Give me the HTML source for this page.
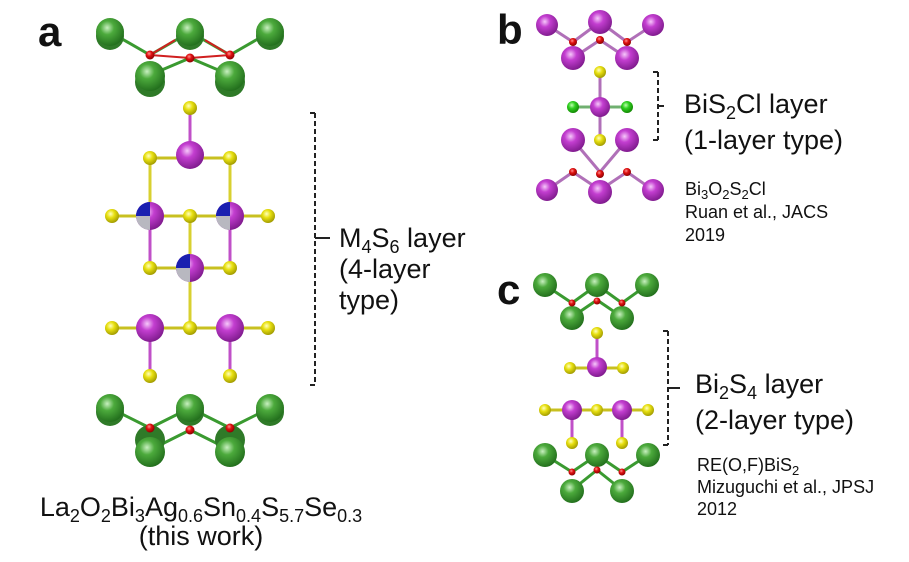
<!DOCTYPE html>
<html><head><meta charset="utf-8"><style>
html,body{margin:0;padding:0;background:#fff;}
svg{display:block;font-family:"Liberation Sans",Arial,sans-serif;}
</style></head><body>
<svg width="909" height="562" viewBox="0 0 909 562" xmlns="http://www.w3.org/2000/svg">
<defs>
<radialGradient id="g" cx="0.4" cy="0.35" r="0.7"><stop offset="0" stop-color="#c8f0c0"/><stop offset="0.35" stop-color="#4caa3c"/><stop offset="1" stop-color="#1f6a1a"/></radialGradient>
<radialGradient id="m" cx="0.4" cy="0.35" r="0.7"><stop offset="0" stop-color="#f6c8fa"/><stop offset="0.35" stop-color="#c33ed0"/><stop offset="1" stop-color="#7a1888"/></radialGradient>
<radialGradient id="y" cx="0.4" cy="0.35" r="0.7"><stop offset="0" stop-color="#ffffc0"/><stop offset="0.4" stop-color="#e8e010"/><stop offset="1" stop-color="#9a9400"/></radialGradient>
<radialGradient id="r" cx="0.4" cy="0.35" r="0.7"><stop offset="0" stop-color="#ff9090"/><stop offset="0.4" stop-color="#e01010"/><stop offset="1" stop-color="#800000"/></radialGradient>
<radialGradient id="c" cx="0.4" cy="0.35" r="0.7"><stop offset="0" stop-color="#c0ffb0"/><stop offset="0.4" stop-color="#30d020"/><stop offset="1" stop-color="#108000"/></radialGradient>
</defs>

<g stroke="#3a9a30" stroke-width="3">
<line x1="110" y1="32" x2="150" y2="55"/><line x1="190" y1="32" x2="150" y2="55"/><line x1="190" y1="32" x2="230" y2="55"/><line x1="270" y1="32" x2="230" y2="55"/>
<line x1="150" y1="75" x2="190" y2="58"/><line x1="230" y1="75" x2="190" y2="58"/>
</g>
<g stroke="#d02020" stroke-width="2">
<line x1="150" y1="55" x2="190" y2="58"/><line x1="190" y1="58" x2="230" y2="55"/><line x1="150" y1="55" x2="175" y2="40"/><line x1="230" y1="55" x2="205" y2="40"/>
</g>
<circle cx="110" cy="36" r="14" fill="#2f7a28"/><circle cx="190" cy="36" r="14" fill="#2f7a28"/><circle cx="270" cy="36" r="14" fill="#2f7a28"/>
<circle cx="110" cy="32" r="14" fill="url(#g)"/><circle cx="190" cy="32" r="14" fill="url(#g)"/><circle cx="270" cy="32" r="14" fill="url(#g)"/>
<circle cx="150" cy="55" r="4.5" fill="url(#r)"/><circle cx="190" cy="58" r="4.5" fill="url(#r)"/><circle cx="230" cy="55" r="4.5" fill="url(#r)"/>
<circle cx="150" cy="82" r="15" fill="#2f7a28"/><circle cx="230" cy="82" r="15" fill="#2f7a28"/>
<circle cx="150" cy="76" r="15" fill="url(#g)"/><circle cx="230" cy="76" r="15" fill="url(#g)"/>

<g stroke-width="3">
<line x1="190" y1="108" x2="190" y2="155" stroke="#c050c8"/>
<line x1="150" y1="158" x2="230" y2="158" stroke="#c8c020"/>
<line x1="150" y1="158" x2="150" y2="216" stroke="#d8d030"/><line x1="230" y1="158" x2="230" y2="216" stroke="#d8d030"/>
<line x1="112" y1="216" x2="268" y2="216" stroke="#c8c020"/>
<line x1="150" y1="216" x2="150" y2="268" stroke="#c050c8"/><line x1="230" y1="216" x2="230" y2="268" stroke="#c050c8"/>
<line x1="190" y1="216" x2="190" y2="328" stroke="#d8d030"/>
<line x1="150" y1="268" x2="230" y2="268" stroke="#c8c020"/>
<line x1="112" y1="328" x2="268" y2="328" stroke="#c8c020"/>
<line x1="150" y1="328" x2="150" y2="376" stroke="#c050c8"/><line x1="230" y1="328" x2="230" y2="376" stroke="#c050c8"/>
</g>
<g fill="url(#y)">
<circle cx="190" cy="108" r="7"/><circle cx="150" cy="158" r="7"/><circle cx="230" cy="158" r="7"/>
<circle cx="112" cy="216" r="7"/><circle cx="190" cy="216" r="7"/><circle cx="268" cy="216" r="7"/>
<circle cx="150" cy="268" r="7"/><circle cx="230" cy="268" r="7"/>
<circle cx="112" cy="328" r="7"/><circle cx="190" cy="328" r="7"/><circle cx="268" cy="328" r="7"/>
<circle cx="150" cy="376" r="7"/><circle cx="230" cy="376" r="7"/>
</g>
<circle cx="190" cy="155" r="14" fill="url(#m)"/>
<circle cx="150" cy="328" r="14" fill="url(#m)"/><circle cx="230" cy="328" r="14" fill="url(#m)"/>
<g>
<circle cx="150" cy="216" r="14" fill="url(#m)"/><path d="M150 216 L136 216 A14 14 0 0 1 150 202 Z" fill="#1a20b0"/><path d="M150 216 L150 230 A14 14 0 0 1 136 216 Z" fill="#b8b8c0"/>
<circle cx="230" cy="216" r="14" fill="url(#m)"/><path d="M230 216 L216 216 A14 14 0 0 1 230 202 Z" fill="#1a20b0"/><path d="M230 216 L230 230 A14 14 0 0 1 216 216 Z" fill="#b8b8c0"/>
<circle cx="190" cy="268" r="14" fill="url(#m)"/><path d="M190 268 L176 268 A14 14 0 0 1 190 254 Z" fill="#1a20b0"/><path d="M190 268 L190 282 A14 14 0 0 1 176 268 Z" fill="#b8b8c0"/>
</g>

<g stroke="#3a9a30" stroke-width="3">
<line x1="110" y1="408" x2="150" y2="428"/><line x1="190" y1="408" x2="150" y2="428"/><line x1="190" y1="408" x2="230" y2="428"/><line x1="270" y1="408" x2="230" y2="428"/>
<line x1="150" y1="450" x2="190" y2="430"/><line x1="230" y1="450" x2="190" y2="430"/>
</g>
<circle cx="110" cy="412" r="14" fill="#2f7a28"/><circle cx="190" cy="412" r="14" fill="#2f7a28"/><circle cx="270" cy="412" r="14" fill="#2f7a28"/>
<circle cx="110" cy="408" r="14" fill="url(#g)"/><circle cx="190" cy="408" r="14" fill="url(#g)"/><circle cx="270" cy="408" r="14" fill="url(#g)"/>
<circle cx="150" cy="440" r="15" fill="#2f7a28"/><circle cx="230" cy="440" r="15" fill="#2f7a28"/>
<circle cx="150" cy="428" r="4.5" fill="url(#r)"/><circle cx="190" cy="430" r="4.5" fill="url(#r)"/><circle cx="230" cy="428" r="4.5" fill="url(#r)"/>
<circle cx="150" cy="452" r="15" fill="url(#g)"/><circle cx="230" cy="452" r="15" fill="url(#g)"/>

<g stroke="#222" stroke-width="2" fill="none">
<line x1="315" y1="113" x2="315" y2="385" stroke-dasharray="5,3"/>
<line x1="310" y1="113" x2="315" y2="113"/><line x1="310" y1="385" x2="315" y2="385"/>
<line x1="315" y1="238" x2="330" y2="238"/>
</g>
<text x="339" y="247" font-size="27" fill="#111">M<tspan font-size="18" dy="6">4</tspan><tspan dy="-6">S</tspan><tspan font-size="18" dy="6">6</tspan><tspan dy="-6"> layer</tspan></text>
<text x="339" y="278" font-size="27" fill="#111">(4-layer</text>
<text x="339" y="309" font-size="27" fill="#111">type)</text>
<text x="38" y="46" font-size="42" font-weight="bold" fill="#111">a</text>
<text x="201" y="516" font-size="27" fill="#111" text-anchor="middle">La<tspan font-size="18" dy="6">2</tspan><tspan dy="-6">O</tspan><tspan font-size="18" dy="6">2</tspan><tspan dy="-6">Bi</tspan><tspan font-size="18" dy="6">3</tspan><tspan dy="-6">Ag</tspan><tspan font-size="18" dy="6">0.6</tspan><tspan dy="-6">Sn</tspan><tspan font-size="18" dy="6">0.4</tspan><tspan dy="-6">S</tspan><tspan font-size="18" dy="6">5.7</tspan><tspan dy="-6">Se</tspan><tspan font-size="18" dy="6">0.3</tspan></text>
<text x="201" y="545" font-size="27" fill="#111" text-anchor="middle">(this work)</text>

<text x="497" y="44" font-size="42" font-weight="bold" fill="#111">b</text>
<g stroke="#b070b8" stroke-width="3">
<line x1="547" y1="25" x2="573" y2="42"/><line x1="600" y1="22" x2="573" y2="42"/><line x1="600" y1="22" x2="627" y2="42"/><line x1="653" y1="25" x2="627" y2="42"/>
<line x1="573" y1="58" x2="600" y2="40"/><line x1="627" y1="58" x2="600" y2="40"/>
<line x1="600" y1="72" x2="600" y2="140"/><line x1="573" y1="107" x2="627" y2="107" stroke="#70b070"/>
<line x1="547" y1="190" x2="573" y2="172"/><line x1="600" y1="190" x2="573" y2="172"/><line x1="600" y1="190" x2="627" y2="172"/><line x1="653" y1="190" x2="627" y2="172"/>
<line x1="573" y1="140" x2="600" y2="172"/><line x1="627" y1="140" x2="600" y2="172"/>
</g>
<g fill="url(#m)">
<circle cx="547" cy="25" r="11"/><circle cx="600" cy="22" r="12"/><circle cx="653" cy="25" r="11"/>
<circle cx="573" cy="58" r="12"/><circle cx="627" cy="58" r="12"/>
<circle cx="600" cy="107" r="10"/>
<circle cx="573" cy="140" r="12"/><circle cx="627" cy="140" r="12"/>
<circle cx="547" cy="190" r="11"/><circle cx="600" cy="192" r="12"/><circle cx="653" cy="190" r="11"/>
</g>
<g fill="url(#r)"><circle cx="573" cy="42" r="4"/><circle cx="600" cy="40" r="4"/><circle cx="627" cy="42" r="4"/>
<circle cx="573" cy="172" r="4"/><circle cx="600" cy="174" r="4"/><circle cx="627" cy="172" r="4"/></g>
<circle cx="600" cy="72" r="6" fill="url(#y)"/><circle cx="600" cy="140" r="6" fill="url(#y)"/>
<circle cx="573" cy="107" r="6" fill="url(#c)"/><circle cx="627" cy="107" r="6" fill="url(#c)"/>
<g stroke="#222" stroke-width="2" fill="none">
<line x1="658" y1="72" x2="658" y2="140" stroke-dasharray="5,3"/>
<line x1="653" y1="72" x2="658" y2="72"/><line x1="653" y1="140" x2="658" y2="140"/>
<line x1="658" y1="106" x2="664" y2="106"/>
</g>
<text x="684" y="113" font-size="27" fill="#111">BiS<tspan font-size="18" dy="6">2</tspan><tspan dy="-6">Cl layer</tspan></text>
<text x="684" y="149" font-size="27" fill="#111">(1-layer type)</text>
<text x="685" y="195" font-size="18" fill="#111">Bi<tspan font-size="13" dy="4">3</tspan><tspan dy="-4">O</tspan><tspan font-size="13" dy="4">2</tspan><tspan dy="-4">S</tspan><tspan font-size="13" dy="4">2</tspan><tspan dy="-4">Cl</tspan></text>
<text x="685" y="218" font-size="18" fill="#111">Ruan et al., JACS</text>
<text x="685" y="241" font-size="18" fill="#111">2019</text>

<text x="497" y="304" font-size="42" font-weight="bold" fill="#111">c</text>
<g stroke="#3a9a30" stroke-width="3">
<line x1="545" y1="285" x2="572" y2="303"/><line x1="597" y1="285" x2="572" y2="303"/><line x1="597" y1="285" x2="622" y2="303"/><line x1="647" y1="285" x2="622" y2="303"/>
<line x1="572" y1="317" x2="597" y2="300"/><line x1="622" y1="317" x2="597" y2="300"/>
<line x1="545" y1="455" x2="572" y2="472"/><line x1="597" y1="455" x2="572" y2="472"/><line x1="597" y1="455" x2="622" y2="472"/><line x1="648" y1="455" x2="622" y2="472"/>
<line x1="572" y1="490" x2="597" y2="470"/><line x1="622" y1="490" x2="597" y2="470"/>
</g>
<g stroke-width="3">
<line x1="597" y1="332" x2="597" y2="367" stroke="#c050c8"/>
<line x1="570" y1="368" x2="623" y2="368" stroke="#c8c020"/>
<line x1="545" y1="410" x2="648" y2="410" stroke="#c8c020"/>
<line x1="572" y1="410" x2="572" y2="443" stroke="#c050c8"/><line x1="622" y1="410" x2="622" y2="443" stroke="#c050c8"/>
</g>
<g fill="url(#g)">
<circle cx="545" cy="285" r="12"/><circle cx="597" cy="285" r="12"/><circle cx="647" cy="285" r="12"/>
<circle cx="572" cy="318" r="12"/><circle cx="622" cy="318" r="12"/>
<circle cx="545" cy="455" r="12"/><circle cx="597" cy="455" r="12"/><circle cx="648" cy="455" r="12"/>
<circle cx="572" cy="491" r="12"/><circle cx="622" cy="491" r="12"/>
</g>
<g fill="url(#r)"><circle cx="572" cy="303" r="3.5"/><circle cx="597" cy="301" r="3.5"/><circle cx="622" cy="303" r="3.5"/>
<circle cx="572" cy="472" r="3.5"/><circle cx="597" cy="470" r="3.5"/><circle cx="622" cy="472" r="3.5"/></g>
<g fill="url(#y)">
<circle cx="597" cy="333" r="6"/><circle cx="570" cy="368" r="6"/><circle cx="623" cy="368" r="6"/>
<circle cx="545" cy="410" r="6"/><circle cx="597" cy="410" r="6"/><circle cx="648" cy="410" r="6"/>
<circle cx="572" cy="443" r="6"/><circle cx="622" cy="443" r="6"/>
</g>
<g fill="url(#m)"><circle cx="597" cy="367" r="10"/><circle cx="572" cy="410" r="10"/><circle cx="622" cy="410" r="10"/></g>
<g stroke="#222" stroke-width="2" fill="none">
<line x1="668" y1="331" x2="668" y2="445" stroke-dasharray="5,3"/>
<line x1="663" y1="331" x2="668" y2="331"/><line x1="663" y1="445" x2="668" y2="445"/>
<line x1="668" y1="388" x2="680" y2="388"/>
</g>
<text x="695" y="393" font-size="27" fill="#111">Bi<tspan font-size="18" dy="6">2</tspan><tspan dy="-6">S</tspan><tspan font-size="18" dy="6">4</tspan><tspan dy="-6"> layer</tspan></text>
<text x="695" y="429" font-size="27" fill="#111">(2-layer type)</text>
<text x="697" y="471" font-size="18" fill="#111">RE(O,F)BiS<tspan font-size="13" dy="4">2</tspan></text>
<text x="697" y="493" font-size="18" fill="#111">Mizuguchi et al., JPSJ</text>
<text x="697" y="515" font-size="18" fill="#111">2012</text>
</svg>
</body></html>
